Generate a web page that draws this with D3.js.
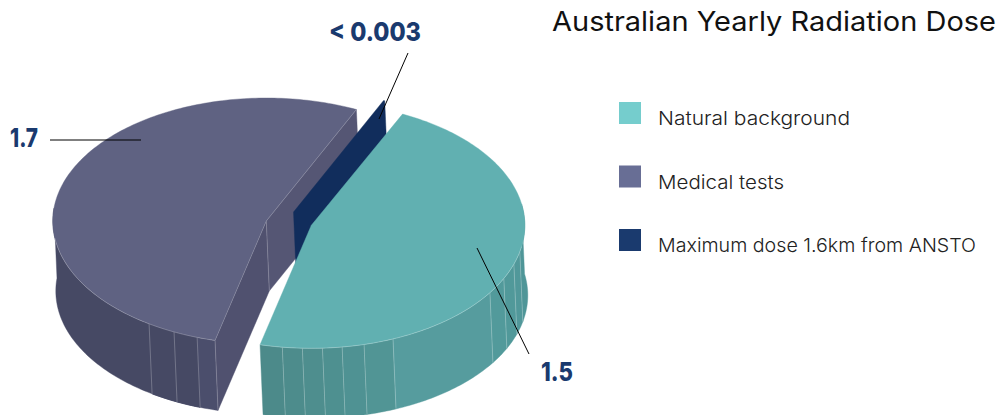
<!DOCTYPE html>
<html><head><meta charset="utf-8">
<script src="https://cdn.jsdelivr.net/npm/d3@7/dist/d3.min.js"></script>
<style>html,body{margin:0;padding:0;background:#fff}svg{display:block}text{font-family:Inter,"Open Sans",sans-serif}</style>
</head><body><svg id="c" width="1000" height="415"></svg>
<script>
const categories = ["Natural background","Medical tests","Maximum dose 1.6km from ANSTO"];
const values = [1.5,1.7,0.003];
const valueLabels = ["1.5","1.7","< 0.003"];
const legendColors = ["#75cdcd","#686e95","#1a3a6e"];
const topColors = ["#61b0b1","#5f6282","#112d5c"];
const title = "Australian Yearly Radiation Dose";
// facet seams on the outer wall, degrees clockwise from 12 o'clock
const tealSeams = [187.8,182.4,177,171.7,165.7,157.5,123.2,115.6,108.4,102.4];
const purpleSeams = [213.3,205.6,198.9];

const rx=213.5, ry=123, depthX=3, depthY=70, startDeg=25.3;
const centres=[[311.3,225.3],[266.3,221],[293.5,212]];
const rad=d=>d*Math.PI/180, deg=r=>r*180/Math.PI;
const svg=d3.select("#c");
const pie=d3.pie().sort(null).startAngle(rad(startDeg)).endAngle(rad(startDeg+360));
const arcs=pie(values).map((a,i)=>({i,a0:deg(a.startAngle),a1:deg(a.endAngle),cx:centres[i][0],cy:centres[i][1]}));
const pt=(s,ang,dz=0)=>[s.cx+rx*Math.sin(rad(ang))+(dz?depthX:0), s.cy-ry*Math.cos(rad(ang))+(dz?depthY:0)];
const line=d3.line();
const arcPts=(s,a,b,dz=0)=>{const n=Math.max(2,Math.ceil(Math.abs(b-a)));return d3.range(n+1).map(k=>pt(s,a+(b-a)*k/n,dz));};
const apex=(s,dz=0)=>[s.cx+(dz?depthX:0),s.cy+(dz?depthY:0)];
const poly=(pts,fill)=>svg.append("path").attr("d",line(pts)+"Z").attr("fill",fill).attr("stroke",fill).attr("stroke-width",0.4);
const seam=(a,b,o=0.3)=>svg.append("path").attr("d",line([a,b])).attr("stroke","#fff").attr("stroke-opacity",o).attr("stroke-width",0.8).attr("fill","none");
function wall(s,edges,colorOf){
  for(let k=0;k<edges.length-1;k++){
    const a=edges[k],b=edges[k+1];
    poly([...arcPts(s,a,b),...arcPts(s,b,a,1)],colorOf((a+b)/2));
  }
  edges.slice(1,-1).forEach(e=>seam(pt(s,e),pt(s,e,1)));
}
const [teal,purple,navy]=arcs;

// purple slice
const purpleEnd=purple.a1;
wall(purple,[purple.a0,...purpleSeams,276],
  d3.scaleLinear().domain([196,202,209,240]).range(["#4d4f6e","#4b4e6c","#4a4c6a","#464964"]));
poly([apex(purple),pt(purple,purple.a0),pt(purple,purple.a0,1),apex(purple,1)],"#50516f");
poly([apex(purple),pt(purple,purpleEnd),pt(purple,purpleEnd,1),apex(purple,1)],"#555674");
seam(apex(purple),apex(purple,1),.25);
seam(pt(purple,purple.a0),pt(purple,purple.a0,1),.25);
poly([apex(purple),...arcPts(purple,purple.a0,purpleEnd)],topColors[1]);
svg.append("path").attr("d",line([pt(purple,purple.a0),apex(purple),pt(purple,purpleEnd)])).attr("fill","none").attr("stroke","#fff").attr("stroke-opacity",.25).attr("stroke-width",.7);
svg.append("path").attr("d",line(arcPts(purple,purple.a0,262))).attr("fill","none").attr("stroke","#fff").attr("stroke-opacity",.3).attr("stroke-width",.7);

// navy slice
poly([apex(navy),pt(navy,navy.a0),pt(navy,navy.a1),pt(navy,navy.a1,1),apex(navy,1)],"#112d5c");

// teal slice
wall(teal,[teal.a1,...tealSeams,80],
  d3.scaleLinear().domain([190,170,140,118,90]).range(["#4c8a8a","#4f9292","#569c9e","#529a9b","#4f9698"]));
poly([apex(teal),...arcPts(teal,teal.a0,teal.a1)],topColors[0]);
svg.append("path").attr("d",line(arcPts(teal,teal.a1,100))).attr("fill","none").attr("stroke","#fff").attr("stroke-opacity",.35).attr("stroke-width",.7);

// leader lines
const ll=[[[50,140],[141,140]],[[408,53],[379,119]],[[477,248],[529,354]]];
ll.forEach(p=>svg.append("path").attr("d",line(p)).attr("stroke","#000").attr("stroke-width",1).attr("fill","none"));

// value labels
const lab=[{i:0,x:541,y:381,w:32},{i:1,x:10,y:147,w:28},{i:2,x:329,y:41,w:92}];
lab.forEach(l=>svg.append("text").attr("x",l.x).attr("y",l.y).attr("font-size",26).attr("font-weight",800)
  .attr("fill","#1a3a6e").attr("textLength",l.w).attr("lengthAdjust","spacingAndGlyphs").text(valueLabels[l.i]));

// title and legend
svg.append("text").attr("x",552).attr("y",31).attr("font-size",26.5).attr("fill","#111")
  .attr("textLength",444).attr("lengthAdjust","spacingAndGlyphs").text(title);
const ly=d3.scalePoint().domain(categories).range([102,229]);
const lw=[192,126,318];
categories.forEach((c,i)=>{
  svg.append("rect").attr("x",619).attr("y",ly(c)).attr("width",22).attr("height",22).attr("fill",legendColors[i]);
  svg.append("text").attr("x",658).attr("y",ly(c)+23).attr("font-size",19).attr("font-weight",300).attr("fill","#222")
    .attr("textLength",lw[i]).attr("lengthAdjust","spacingAndGlyphs").text(c);
});
</script></body></html>
